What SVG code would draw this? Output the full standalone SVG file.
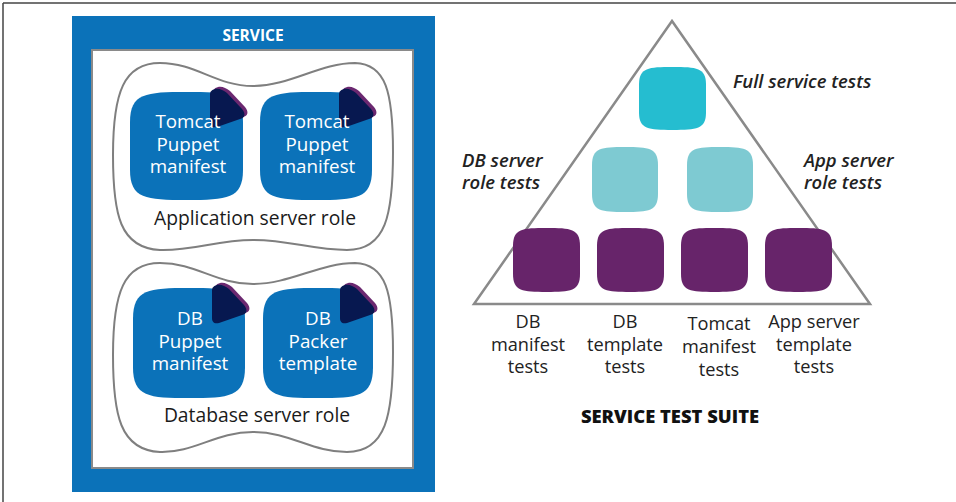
<svg xmlns="http://www.w3.org/2000/svg" xmlns:xlink="http://www.w3.org/1999/xlink" width="956" height="502" viewBox="0 0 956 502">
<style>
text{font-family:"Open Sans","Liberation Sans",sans-serif}
.blue{fill:#0b72b9}
.box{fill:#0b72b9}
.boxtxt{fill:#fff;font-size:18.8px;text-anchor:middle}
.role{fill:#1a1a1a;font-size:19.3px;font-weight:500;text-anchor:middle}
.blob{fill:#fff;stroke:#7f7f7f;stroke-width:2}
.navy{fill:#071850}
.purp{fill:#6b2870}
.lab{fill:#222;font-size:18.5px;font-style:italic;font-weight:600}
.bot{fill:#222;font-size:18.2px;text-anchor:middle}
.t1{fill:#25bdd0}
.t2{fill:#7ecad2}
.t3{fill:#67246a}
</style>
<defs>
<path id="sq" d="M50 0C86 0 100 1 100 28L100 72C100 99 86 100 50 100C14 100 0 99 0 72L0 28C0 1 14 0 50 0Z"/>
<path id="tri" d="M-28 -3C-24 -4 -20 -2 -16 1L-1 17C3 22 2 26 -3 27L-26 35C-31 36 -33 34 -33 30L-33 3C-33 -1 -31 -2 -28 -3Z"/>
</defs>
<line x1="3" y1="3" x2="956" y2="3" stroke="#444" stroke-width="1.5"/>
<line x1="3" y1="3" x2="3" y2="502" stroke="#444" stroke-width="1.5"/>

<g id="service">
<rect x="72" y="16" width="363" height="476" class="blue"/>
<rect x="92" y="50" width="321" height="418" fill="#fff" stroke="#8a8a8a" stroke-width="2"/>
<text x="253" y="41" fill="#fff" font-size="15.5" font-weight="700" text-anchor="middle">SERVICE</text>
</g>

<g id="app-role">
<path class="blob" d="M253 86C290 86 320 63 355 63C386 64 393 92 393 152C393 215 386 250 347 250C312 250 290 240 253 240C216 240 194 251 160 250C120 248 113 215 113 155C113 92 124 63 160 63C196 63 216 86 253 86Z"/>
<text x="255" y="225" class="role">Application server role</text>
</g>
<g id="tomcat1">
<use href="#sq" class="box" transform="translate(130 92) scale(1.13 1.08)"/>
<use href="#tri" class="purp" transform="translate(246 90)"/>
<use href="#tri" class="navy" transform="translate(243 92)"/>
<text class="boxtxt"><tspan x="188" y="128">Tomcat</tspan><tspan x="188" y="150.5">Puppet</tspan><tspan x="188" y="173">manifest</tspan></text>
</g>
<g id="tomcat2">
<use href="#sq" class="box" transform="translate(260 92) scale(1.12 1.08)"/>
<use href="#tri" class="purp" transform="translate(375 90)"/>
<use href="#tri" class="navy" transform="translate(372 92)"/>
<text class="boxtxt"><tspan x="317" y="128">Tomcat</tspan><tspan x="317" y="150.5">Puppet</tspan><tspan x="317" y="173">manifest</tspan></text>
</g>

<g id="db-role">
<path class="blob" d="M253 284C290 284 320 263 355 263C386 264 393 292 393 352C393 415 386 452 347 452C312 452 290 432 253 432C216 432 194 453 160 452C120 450 113 415 113 355C113 292 124 263 160 263C196 263 216 284 253 284Z"/>
<text x="257" y="422" class="role">Database server role</text>
</g>
<g id="db-manifest">
<use href="#sq" class="box" transform="translate(133 288) scale(1.12 1.10)"/>
<use href="#tri" class="purp" transform="translate(248 286)"/>
<use href="#tri" class="navy" transform="translate(245 288)"/>
<text class="boxtxt"><tspan x="190" y="325">DB</tspan><tspan x="190" y="347.5">Puppet</tspan><tspan x="190" y="370">manifest</tspan></text>
</g>
<g id="db-packer">
<use href="#sq" class="box" transform="translate(263 288) scale(1.10 1.10)"/>
<use href="#tri" class="purp" transform="translate(376 286)"/>
<use href="#tri" class="navy" transform="translate(373 288)"/>
<text class="boxtxt"><tspan x="318" y="325">DB</tspan><tspan x="318" y="347.5">Packer</tspan><tspan x="318" y="370">template</tspan></text>
</g>

<g id="pyramid">
<polygon points="672,21 474,304 870,304" fill="#fff" stroke="#8a8a8a" stroke-width="2.5" stroke-linejoin="miter"/>
</g>
<g id="full-service-tests">
<use href="#sq" class="t1" transform="translate(639 67) scale(0.67 0.63)"/>
<text x="733" y="88" class="lab">Full service tests</text>
</g>
<g id="db-server-role-tests">
<use href="#sq" class="t2" transform="translate(592 147) scale(0.66 0.65)"/>
<text class="lab"><tspan x="462" y="167">DB server</tspan><tspan x="462" y="189">role tests</tspan></text>
</g>
<g id="app-server-role-tests">
<use href="#sq" class="t2" transform="translate(687 147) scale(0.66 0.65)"/>
<text class="lab"><tspan x="804" y="167">App server</tspan><tspan x="804" y="189">role tests</tspan></text>
</g>
<g id="db-manifest-tests">
<use href="#sq" class="t3" transform="translate(513 228) scale(0.67 0.64)"/>
<text class="bot"><tspan x="528" y="328">DB</tspan><tspan x="528" y="351">manifest</tspan><tspan x="528" y="373">tests</tspan></text>
</g>
<g id="db-template-tests">
<use href="#sq" class="t3" transform="translate(597 228) scale(0.67 0.64)"/>
<text class="bot"><tspan x="625" y="328">DB</tspan><tspan x="625" y="351">template</tspan><tspan x="625" y="373">tests</tspan></text>
</g>
<g id="tomcat-manifest-tests">
<use href="#sq" class="t3" transform="translate(681 228) scale(0.67 0.64)"/>
<text class="bot"><tspan x="719" y="330">Tomcat</tspan><tspan x="719" y="353">manifest</tspan><tspan x="719" y="376">tests</tspan></text>
</g>
<g id="app-server-template-tests">
<use href="#sq" class="t3" transform="translate(765 228) scale(0.67 0.64)"/>
<text class="bot"><tspan x="814" y="328">App server</tspan><tspan x="814" y="351">template</tspan><tspan x="814" y="373">tests</tspan></text>
</g>
<g id="suite-title">
<text x="670" y="423" fill="#111" font-size="18.4" font-weight="800" text-anchor="middle">SERVICE TEST SUITE</text>
</g>
<g id="connectors"></g>
</svg>
